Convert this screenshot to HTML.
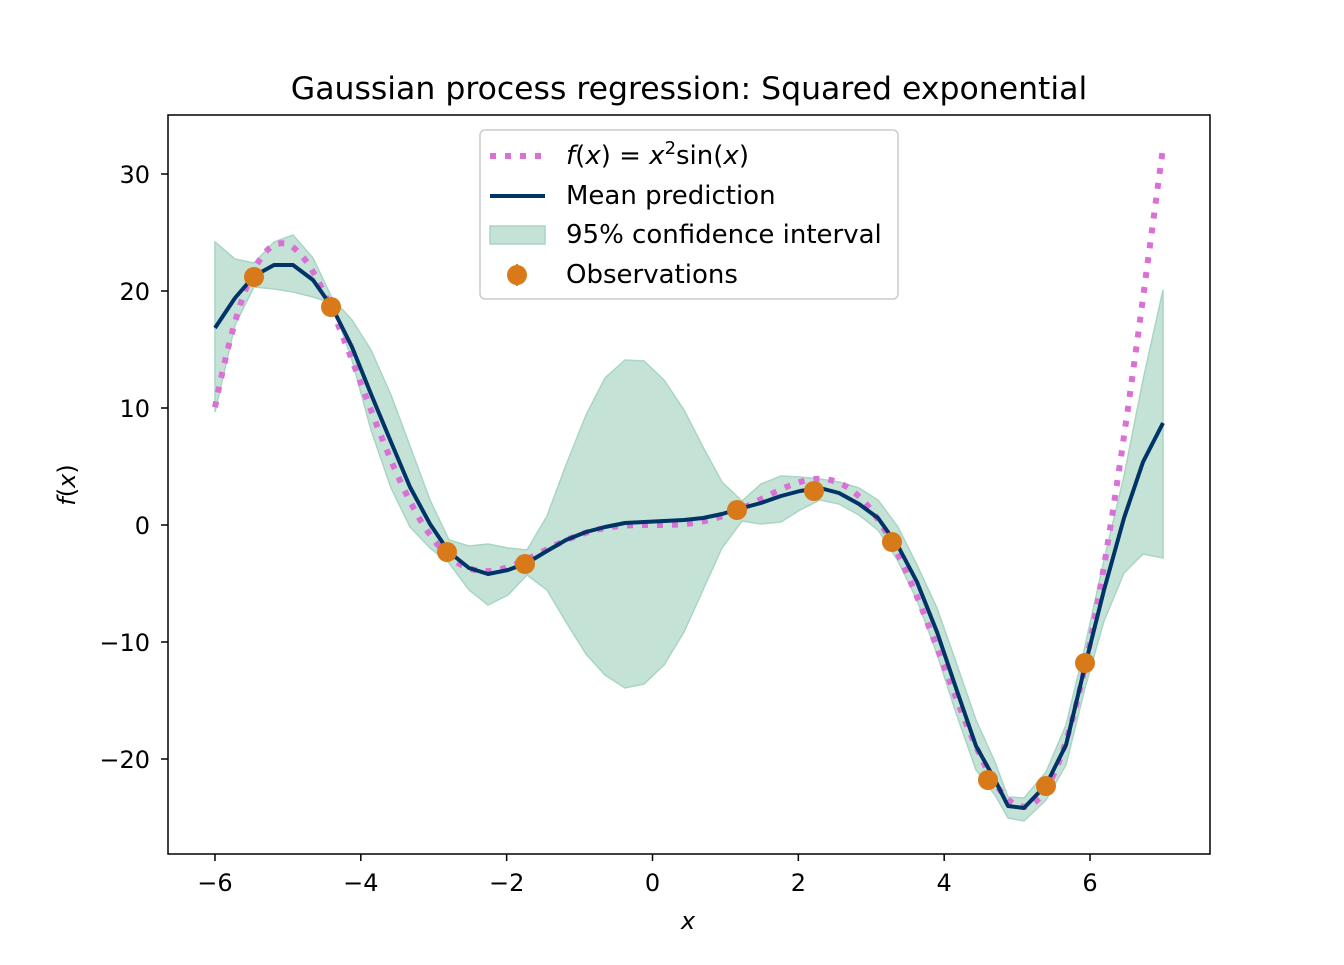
<!DOCTYPE html>
<html><head><meta charset="utf-8"><style>
body{margin:0;background:#fff;}
svg text{font-family:"DejaVu Sans","Liberation Sans",sans-serif;fill:#000;}
</style></head><body>
<svg id="s" width="1344" height="960" xmlns="http://www.w3.org/2000/svg">
<rect width="1344" height="960" fill="#fff"/>
<text x="689" y="99" font-size="31.5" text-anchor="middle">Gaussian process regression: Squared exponential</text>
<g id="plot"></g>
<rect x="168" y="115" width="1042" height="739" fill="none" stroke="#000" stroke-width="1.5"/>
<g id="ticks" font-size="24"></g>
<text x="688" y="929" font-size="24" font-style="italic" text-anchor="middle">x</text>
<text transform="translate(75,485) rotate(-90)" font-size="24" text-anchor="middle"><tspan font-style="italic">f</tspan>(<tspan font-style="italic">x</tspan>)</text>
<g>
<rect x="480" y="130" width="418" height="169" rx="5" fill="#fff" fill-opacity="0.8" stroke="#ccc" stroke-width="1.5"/>
<line x1="490" y1="156" x2="545" y2="156" stroke="#da70d6" stroke-width="6" stroke-dasharray="6,9"/>
<line x1="490" y1="196" x2="545" y2="196" stroke="#003366" stroke-width="4"/>
<rect x="490" y="226" width="55" height="18" fill="#c5e2d7" stroke="#a8d5c4" stroke-width="1.5"/>
<line x1="517" y1="264" x2="517" y2="286" stroke="#d97a1a" stroke-width="2"/>
<circle cx="517" cy="275" r="10" fill="#d97a1a"/>
<text x="566" y="164" font-size="26"><tspan font-style="italic">f</tspan>(<tspan font-style="italic">x</tspan>) = <tspan font-style="italic">x</tspan><tspan dy="-10" font-size="18">2</tspan><tspan dy="10">sin(</tspan><tspan font-style="italic">x</tspan>)</text>
<text x="566" y="204" font-size="26">Mean prediction</text>
<text x="566" y="243" font-size="26">95% confidence interval</text>
<text x="566" y="283" font-size="26">Observations</text>
</g>
</svg>
<script>
const X=x=>652.5+x*72.92, Y=y=>525-y*11.7;
const xs=[215,235,254,274,293,313,332,352,371,391,410,430,449,469,488,508,527,547,566,586,605,625,644,664,684,703,722,742,761,781,800,820,839,859,878,898,917,937,956,976,995,1008,1024,1046,1066,1085,1104,1124,1143,1163];
const mean=[328,298,276,265,265,280,307,347,394,442,487,524,552,568,574,570,563,551,540,532,527,523,522,521,520,518,514,508,503,496,491,488,493,504,518,546,582,632,688,746,780,806,808,785,745,666,590,518,462,423];
const up=[242,259,263,242,235,258,298,320,350,395,446,500,540,546,544,548,550,516,465,415,378,360,361,380,410,447,482,501,484,476,477,479,482,488,500,527,565,608,662,720,762,797,798,772,725,646,560,476,380,290];
const lo=[412,325,287,289,292,297,303,360,430,488,527,548,563,590,605,595,575,590,622,654,675,688,684,665,632,590,548,521,524,522,510,500,504,515,530,561,600,654,713,770,795,818,821,800,765,688,621,573,554,558];
let band="M"+xs.map((x,i)=>x+","+up[i]).join(" L")+" L"+xs.map((x,i)=>x+","+lo[i]).reverse().join(" L")+" Z";
let m="M"+xs.map((x,i)=>x+","+mean[i]).join(" L");
let f="M";for(let i=0;i<=300;i++){let x=-6+13*i/300;f+=(i?" L":"")+X(x).toFixed(1)+","+Y(x*x*Math.sin(x)).toFixed(1);}
const obs=[[254,277],[331,307],[447,552],[525,564],[737,510],[814,491],[892,542],[988,780],[1046,786],[1085,663]];
let g=`<path d="${band}" fill="#c5e2d7" stroke="#a8d5c4" stroke-width="1.5"/>`;
g+=`<path d="${f}" fill="none" stroke="#da70d6" stroke-width="6" stroke-dasharray="6,9"/>`;
g+=`<path d="${m}" fill="none" stroke="#003366" stroke-width="4" stroke-linejoin="round"/>`;
obs.forEach(o=>g+=`<circle cx="${o[0]}" cy="${o[1]}" r="10" fill="#d97a1a"/>`);
document.getElementById("plot").innerHTML=g;
let t="";
[-6,-4,-2,0,2,4,6].forEach(v=>{let x=X(v);t+=`<line x1="${x}" y1="854" x2="${x}" y2="861" stroke="#000" stroke-width="1.5"/><text x="${x}" y="891" text-anchor="middle">${v<0?"\u2212"+(-v):v}</text>`;});
[-20,-10,0,10,20,30].forEach(v=>{let y=Y(v);t+=`<line x1="161" y1="${y}" x2="168" y2="${y}" stroke="#000" stroke-width="1.5"/><text x="150" y="${y+9}" text-anchor="end">${v<0?"\u2212"+(-v):v}</text>`;});
document.getElementById("ticks").innerHTML=t;
</script>
</body></html>
